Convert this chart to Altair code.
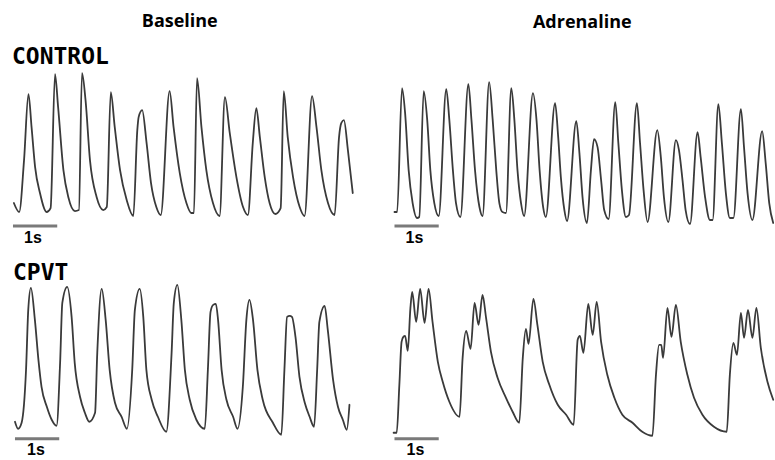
import altair as alt
import pandas as pd

# ---- data (time in s, fluorescence in a.u.) ----
col_titles = ["Baseline", "Adrenaline"]
row_labels = ["CONTROL", "CPVT"]
bar_label = "1s"
bar_start = [0.0]
bar_end = [1.0]

# CONTROL, baseline
cb_t = [0.02, 0.14, 0.25, 0.35, 0.42, 0.50, 0.61, 0.76, 0.85, 0.95, 1.02, 1.14, 1.25, 1.40,
        1.49, 1.56, 1.64, 1.74, 1.89, 2.04, 2.12, 2.21, 2.30, 2.42, 2.57, 2.72, 2.81, 2.84,
        2.92, 3.02, 3.12, 3.24, 3.34, 3.54, 3.63, 3.77, 3.92, 4.03, 4.09, 4.16, 4.26, 4.37,
        4.52, 4.67, 4.79, 4.90, 5.05, 5.20, 5.31, 5.42, 5.50, 5.58, 5.69, 5.80, 5.93, 6.05,
        6.12, 6.21, 6.33, 6.48, 6.59, 6.76, 6.86, 6.97, 7.12, 7.27, 7.37, 7.42, 7.48, 7.57,
        7.68]
cb_f = [17, 8, 60, 126, 93, 53, 27, 8, 12, 146, 113, 50, 23, 9,
        10, 147, 120, 60, 23, 10, 13, 128, 93, 50, 20, 4, 90, 103,
        110, 77, 37, 13, 5, 129, 93, 47, 17, 7, 7, 142, 93, 50,
        17, 4, 123, 87, 43, 13, 5, 77, 112, 83, 43, 17, 6, 12,
        129, 83, 43, 13, 4, 124, 93, 50, 17, 5, 83, 97, 100, 70,
        27]

# CONTROL, adrenaline
ca_t = [0.00, 0.06, 0.17, 0.24, 0.32, 0.41, 0.51, 0.56, 0.66, 0.74, 0.81, 0.90, 1.00, 1.17,
        1.24, 1.32, 1.39, 1.49, 1.67, 1.74, 1.82, 1.92, 1.99, 2.14, 2.22, 2.30, 2.37, 2.44,
        2.52, 2.64, 2.71, 2.78, 2.86, 2.93, 3.13, 3.21, 3.28, 3.36, 3.42, 3.63, 3.70, 3.76,
        3.84, 3.90, 4.11, 4.18, 4.25, 4.35, 4.44, 4.51, 4.59, 4.67, 4.74, 4.84, 4.99, 5.06,
        5.14, 5.23, 5.30, 5.48, 5.55, 5.63, 5.72, 5.94, 6.02, 6.09, 6.19, 6.36, 6.43, 6.51,
        6.58, 6.68, 6.85, 6.92, 7.02, 7.13, 7.19, 7.32, 7.40, 7.49, 7.58, 7.66, 7.83, 7.90,
        7.98, 8.09, 8.31, 8.39, 8.47, 8.56]
ca_f = [13, 13, 137, 112, 55, 22, 7, 8, 134, 105, 55, 22, 9, 136,
        105, 55, 22, 8, 141, 105, 55, 18, 9, 143, 105, 55, 22, 13,
        12, 137, 105, 55, 22, 9, 132, 105, 55, 18, 8, 122, 88, 48,
        15, 4, 104, 72, 28, 2, 55, 86, 78, 45, 15, 6, 123, 82,
        35, 8, 10, 122, 82, 35, 3, 95, 68, 28, 3, 85, 75, 45,
        15, 1, 93, 68, 28, 5, 5, 121, 82, 32, 7, 7, 116, 78,
        32, 5, 94, 62, 22, 2]

# CPVT, baseline
pb_t = [0.00, 0.07, 0.15, 0.25, 0.30, 0.36, 0.45, 0.53, 0.60, 0.72, 0.83, 0.94, 1.02, 1.07,
        1.18, 1.28, 1.35, 1.47, 1.58, 1.68, 1.81, 1.86, 1.96, 2.05, 2.14, 2.26, 2.41, 2.53,
        2.65, 2.71, 2.82, 2.90, 2.97, 3.09, 3.23, 3.42, 3.54, 3.59, 3.67, 3.76, 3.84, 3.95,
        4.10, 4.29, 4.36, 4.42, 4.48, 4.54, 4.59, 4.67, 4.78, 4.93, 5.03, 5.15, 5.23, 5.30,
        5.38, 5.48, 5.60, 5.83, 6.02, 6.09, 6.15, 6.21, 6.26, 6.34, 6.43, 6.55, 6.66, 6.76,
        6.83, 6.88, 7.00, 7.07, 7.19, 7.30, 7.41, 7.50, 7.56]
pb_f = [23, 16, 22, 75, 135, 157, 125, 85, 58, 38, 25, 19, 82, 142,
        158, 128, 82, 48, 32, 23, 32, 92, 156, 125, 75, 42, 28, 16,
        75, 135, 156, 128, 75, 45, 28, 13, 92, 142, 160, 125, 75, 45,
        25, 16, 75, 133, 140, 141, 125, 75, 45, 28, 16, 58, 125, 145,
        125, 75, 45, 22, 10, 75, 128, 129, 128, 108, 68, 42, 28, 18,
        75, 123, 139, 115, 65, 38, 25, 15, 40]

# CPVT, adrenaline
pa_t = [-0.02, 0.05, 0.11, 0.16, 0.20, 0.24, 0.30, 0.36, 0.40, 0.49, 0.58, 0.68, 0.77, 0.86,
        0.98, 1.09, 1.24, 1.47, 1.54, 1.62, 1.72, 1.81, 1.90, 1.99, 2.07, 2.18, 2.33, 2.52,
        2.67, 2.82, 2.90, 2.97, 3.03, 3.14, 3.23, 3.35, 3.50, 3.69, 3.88, 4.05, 4.14, 4.19,
        4.27, 4.38, 4.48, 4.57, 4.67, 4.81, 4.97, 5.15, 5.38, 5.60, 5.83, 5.91, 5.98, 6.03,
        6.07, 6.17, 6.26, 6.36, 6.47, 6.62, 6.77, 6.96, 7.22, 7.51, 7.58, 7.66, 7.74, 7.83,
        7.90, 7.99, 8.09, 8.18, 8.28, 8.43, 8.56]
pa_f = [12, 12, 60, 103, 108, 109, 94, 137, 153, 123, 156, 122, 156, 123,
        83, 63, 43, 28, 87, 114, 96, 142, 120, 150, 127, 93, 67, 47,
        33, 22, 87, 116, 101, 146, 120, 83, 60, 40, 30, 20, 105, 109,
        92, 141, 110, 143, 103, 70, 47, 30, 22, 13, 9, 70, 100, 100,
        87, 137, 108, 140, 103, 70, 47, 30, 18, 13, 70, 102, 90, 132,
        107, 135, 107, 137, 97, 63, 45]

PX_PER_S = 44.3
TRACE = "#3a3a3a"
BAR = "#7a7a7a"


def panel(t, f, x0, dur, ybot, amp, bar_y):
    xs = alt.Scale(domain=[0, dur], range=[x0, x0 + PX_PER_S * dur])
    ys = alt.Scale(domain=[0, amp], range=[ybot, ybot - amp])
    df = pd.DataFrame({"t": t, "f": f})
    line = alt.Chart(df).mark_line(
        color=TRACE, strokeWidth=1.8, interpolate="monotone",
        strokeJoin="round", strokeCap="round"
    ).encode(
        x=alt.X("t:Q", scale=xs, axis=None),
        y=alt.Y("f:Q", scale=ys, axis=None),
    )
    bar = alt.Chart(pd.DataFrame({"s": bar_start, "e": bar_end})).mark_rule(
        color=BAR, strokeWidth=3
    ).encode(
        x=alt.X("s:Q", scale=xs, axis=None),
        x2="e:Q",
        y=alt.value(bar_y),
    )
    return alt.layer(line, bar)


def label(text, x, y, font, size, weight, align="left"):
    return alt.Chart(pd.DataFrame({"txt": [text]})).mark_text(
        font=font, fontSize=size, fontWeight=weight, align=align,
        baseline="alphabetic", color="black"
    ).encode(text="txt:N", x=alt.value(x), y=alt.value(y))


p1 = panel(cb_t, cb_f, 13, 8.0, 220, 150, 226)
p2 = panel(ca_t, ca_f, 395, 8.6, 225, 150, 226)
p3 = panel(pb_t, pb_f, 15, 8.0, 445, 160, 439)
p4 = panel(pa_t, pa_f, 395, 8.6, 445, 160, 439)

texts = [
    label(col_titles[0], 180, 27, "Open Sans", 18, "bold", "center"),
    label(col_titles[1], 583, 28, "Open Sans", 18, "bold", "center"),
    label(row_labels[0], 12, 64, "DejaVu Sans Mono", 23, "bold"),
    label(row_labels[1], 13, 280, "DejaVu Sans Mono", 23, "bold"),
    label(bar_label, 33, 243, "Liberation Sans", 16, "bold", "center"),
    label(bar_label, 415, 243, "Liberation Sans", 16, "bold", "center"),
    label(bar_label, 36, 455, "Liberation Sans", 16, "bold", "center"),
    label(bar_label, 416, 455, "Liberation Sans", 16, "bold", "center"),
]

chart = alt.layer(p1, p2, p3, p4, *texts).resolve_scale(
    x="independent", y="independent"
).properties(
    width=775, height=460, padding=0, background="white"
).configure_view(stroke=None)

chart.save("out.html", embed_options={"renderer": "svg", "actions": False})
